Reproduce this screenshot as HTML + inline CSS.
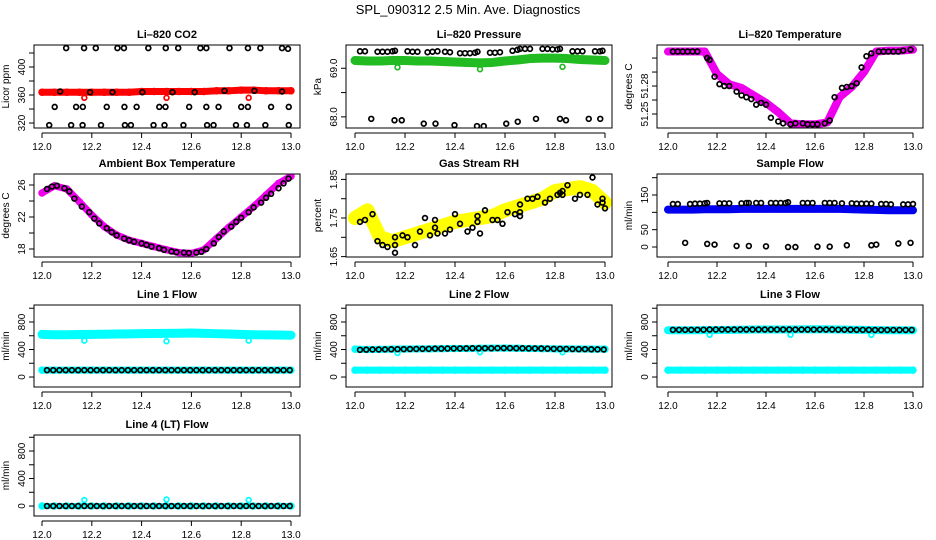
<!DOCTYPE html>
<html><head><meta charset="utf-8">
<style>
html,body{margin:0;padding:0;background:#fff;}
svg{display:block;font-family:"Liberation Sans",sans-serif;}
</style></head>
<body>
<svg id="chart" width="936" height="540" viewBox="0 0 936 540" xmlns="http://www.w3.org/2000/svg">
<rect x="0" y="0" width="936" height="540" fill="#fff"/>
<text x="468" y="14" text-anchor="middle" font-size="13">SPL_090312  2.5 Min. Ave. Diagnostics</text>
</svg>
<script>
// ---------- data ----------
const xTicks = [12.0, 12.2, 12.4, 12.6, 12.8, 13.0];
const xTickLabels = ["12.0", "12.2", "12.4", "12.6", "12.8", "13.0"];
const bandT = [12.0, 12.05, 12.1, 12.15, 12.2, 12.25, 12.3, 12.35, 12.4, 12.45, 12.5, 12.55, 12.6, 12.65, 12.7, 12.75, 12.8, 12.85, 12.9, 12.95, 13.0];

// CO2
const co2Band = [364, 364, 364, 364, 364, 364, 364, 364, 365, 365, 365, 365, 365, 365, 366, 366, 367, 367, 366, 366, 366];
const co2OutT = [12.17, 12.5, 12.83];
const co2OutV = [356, 356, 356];
const co2BlackT = [12.097, 12.169, 12.216, 12.303, 12.329, 12.427, 12.497, 12.547, 12.636, 12.66, 12.753, 12.827, 12.877, 12.964, 12.988,
  12.051, 12.137, 12.164, 12.26, 12.331, 12.38, 12.471, 12.496, 12.591, 12.66, 12.709, 12.8, 12.827, 12.92, 12.991,
  12.029, 12.117, 12.163, 12.237, 12.333, 12.357, 12.448, 12.492, 12.568, 12.663, 12.689, 12.779, 12.823, 12.897, 12.991,
  12.073, 12.193, 12.283, 12.403, 12.524, 12.613, 12.733, 12.853, 12.964];
const co2BlackV = [427, 427, 427, 427, 427, 427, 427, 427, 427, 427, 427, 427, 427, 427, 426,
  343, 343, 343, 343, 343, 343, 343, 343, 343, 343, 343, 343, 343, 343, 343,
  317, 317, 317, 317, 317, 317, 317, 317, 317, 317, 317, 317, 317, 317, 317,
  365, 364, 364, 364, 364, 364, 366, 366, 365];

// Pressure
const presBand = [69.16, 69.15, 69.15, 69.16, 69.16, 69.15, 69.15, 69.14, 69.13, 69.12, 69.11, 69.12, 69.15, 69.17, 69.2, 69.21, 69.21, 69.2, 69.18, 69.17, 69.16];
const presOutT = [12.17, 12.5, 12.83];
const presOutV = [69.02, 68.98, 69.03];
const presBlackT = [12.02, 12.04, 12.09, 12.11, 12.13, 12.15, 12.16, 12.21, 12.23, 12.25, 12.29, 12.31, 12.33, 12.36, 12.38, 12.42, 12.44, 12.46, 12.48, 12.49, 12.54, 12.56, 12.58, 12.63, 12.65, 12.66, 12.68, 12.7, 12.75, 12.77, 12.79, 12.81, 12.82, 12.87, 12.89, 12.91, 12.96, 12.98, 12.99,
  12.065, 12.158, 12.187, 12.275, 12.322, 12.398, 12.488, 12.515, 12.605, 12.651, 12.724, 12.82, 12.844, 12.935, 12.981];
const presBlackV = [69.35, 69.35, 69.34, 69.34, 69.34, 69.35, 69.36, 69.35, 69.34, 69.34, 69.33, 69.34, 69.35, 69.34, 69.33, 69.31, 69.31, 69.31, 69.32, 69.34, 69.32, 69.32, 69.33, 69.36, 69.38, 69.4, 69.4, 69.4, 69.4, 69.4, 69.39, 69.39, 69.4, 69.35, 69.35, 69.35, 69.35, 69.35, 69.36,
  67.96, 67.93, 67.93, 67.86, 67.86, 67.83, 67.81, 67.81, 67.86, 67.9, 67.96, 67.96, 67.93, 67.96, 67.96];

// Li-820 temperature
const tempBand = [51.317, 51.317, 51.317, 51.317, 51.293, 51.282, 51.278, 51.27, 51.262, 51.252, 51.24, 51.239, 51.239, 51.241, 51.268, 51.279, 51.295, 51.317, 51.318, 51.318, 51.319];
const tempBlackT = [12.02, 12.04, 12.06, 12.08, 12.1, 12.12, 12.16, 12.17, 12.19, 12.21, 12.23, 12.25, 12.28, 12.3, 12.32, 12.34, 12.36, 12.38, 12.4, 12.42, 12.45, 12.47, 12.5, 12.52, 12.55, 12.57, 12.59, 12.61, 12.64, 12.66, 12.68, 12.71, 12.73, 12.75, 12.77, 12.79, 12.81, 12.83, 12.86, 12.88, 12.9, 12.92, 12.94, 12.96, 12.99];
const tempBlackV = [51.317, 51.317, 51.317, 51.317, 51.317, 51.317, 51.31, 51.308, 51.29, 51.282, 51.28, 51.28, 51.274, 51.27, 51.268, 51.266, 51.26, 51.262, 51.26, 51.246, 51.242, 51.24, 51.239, 51.24, 51.24, 51.239, 51.239, 51.239, 51.24, 51.243, 51.268, 51.278, 51.279, 51.28, 51.283, 51.3, 51.312, 51.315, 51.317, 51.317, 51.317, 51.317, 51.317, 51.318, 51.319];

// Ambient temperature
const ambBand = [25.0, 25.9, 25.5, 23.9, 22.25, 20.8, 19.75, 19.1, 18.7, 18.3, 17.9, 17.55, 17.45, 17.9, 19.3, 20.7, 22.0, 23.3, 24.75, 26.2, 27.1];
const ambBlackT = [12.02, 12.04, 12.06, 12.09, 12.11, 12.13, 12.16, 12.19, 12.21, 12.23, 12.26, 12.28, 12.3, 12.33, 12.35, 12.37, 12.4, 12.42, 12.44, 12.47, 12.49, 12.52, 12.54, 12.57, 12.59, 12.62, 12.64, 12.66, 12.69, 12.71, 12.73, 12.76, 12.78, 12.8, 12.83, 12.85, 12.88, 12.9, 12.92, 12.95, 12.97, 12.99];
const ambBlackV = [25.5, 25.8, 25.9, 25.6, 25.2, 24.3, 23.3, 22.6, 21.8, 21.2, 20.6, 20.1, 19.7, 19.3, 19.1, 18.9, 18.7, 18.5, 18.3, 18.1, 17.9, 17.7, 17.6, 17.55, 17.5, 17.55, 17.65, 18.0, 18.7, 19.5, 20.2, 20.8, 21.4, 21.9, 22.6, 23.2, 23.8, 24.4, 24.9, 25.6, 26.2, 26.8];

// Gas stream RH
const rhBand = [1.75, 1.77, 1.7, 1.69, 1.7, 1.71, 1.72, 1.73, 1.74, 1.745, 1.75, 1.755, 1.77, 1.78, 1.79, 1.8, 1.82, 1.825, 1.83, 1.82, 1.79];
const rhBlackT = [12.02, 12.04, 12.07, 12.09, 12.11, 12.13, 12.16, 12.16, 12.16, 12.19, 12.21, 12.24, 12.26, 12.28, 12.3, 12.32, 12.32, 12.33, 12.36, 12.38, 12.4, 12.42, 12.45, 12.47, 12.49, 12.49, 12.5, 12.52, 12.55, 12.57, 12.59, 12.61, 12.64, 12.66, 12.66, 12.66, 12.69, 12.71, 12.73, 12.76, 12.78, 12.81, 12.82, 12.83, 12.83, 12.85, 12.88, 12.9, 12.93, 12.95, 12.97, 12.99, 12.99, 13.0];
const rhBlackV = [1.74, 1.745, 1.76, 1.69, 1.68, 1.675, 1.68, 1.66, 1.7, 1.705, 1.7, 1.68, 1.715, 1.75, 1.705, 1.725, 1.745, 1.71, 1.71, 1.72, 1.76, 1.735, 1.715, 1.725, 1.74, 1.755, 1.71, 1.77, 1.745, 1.745, 1.735, 1.765, 1.76, 1.755, 1.765, 1.785, 1.8, 1.8, 1.805, 1.79, 1.8, 1.81, 1.815, 1.81, 1.82, 1.835, 1.8, 1.81, 1.81, 1.855, 1.785, 1.79, 1.8, 1.775];

// Sample flow
const sfBand = [108, 108, 108, 109, 109, 109, 110, 110, 110, 110, 110, 110, 110, 110, 110, 109, 108, 107, 106, 106, 106];
const sfBlackT = [12.02, 12.04, 12.09, 12.11, 12.13, 12.15, 12.16, 12.21, 12.23, 12.25, 12.3, 12.32, 12.33, 12.36, 12.38, 12.42, 12.44, 12.46, 12.48, 12.49, 12.55, 12.57, 12.59, 12.64, 12.66, 12.68, 12.71, 12.75, 12.77, 12.79, 12.81, 12.83, 12.87, 12.89, 12.91, 12.96, 12.98, 13.0,
  12.07, 12.16, 12.19, 12.28, 12.33, 12.4, 12.49, 12.52, 12.61, 12.66, 12.73, 12.83, 12.85, 12.94, 12.99];
const sfBlackV = [124, 124, 124, 125, 125, 126, 127, 126, 126, 126, 126, 127, 127, 127, 127, 127, 127, 127, 127, 129, 127, 127, 127, 127, 127, 127, 126, 126, 125, 125, 125, 125, 124, 124, 123, 123, 123, 124,
  12, 9, 7, 3, 3, 2, 0, 0, 1, 1, 5, 5, 7, 10, 12];

// Line flows
const lineBlackT = [12.02, 12.045, 12.07, 12.095, 12.12, 12.145, 12.17, 12.195, 12.22, 12.245, 12.27, 12.295, 12.32, 12.345, 12.37, 12.395, 12.42, 12.445, 12.47, 12.495, 12.52, 12.545, 12.57, 12.595, 12.62, 12.645, 12.67, 12.695, 12.72, 12.745, 12.77, 12.795, 12.82, 12.845, 12.87, 12.895, 12.92, 12.945, 12.97, 12.995];
const outT = [12.17, 12.5, 12.83];
const l1High = [620, 615, 615, 618, 620, 622, 625, 628, 630, 632, 635, 637, 640, 635, 630, 625, 620, 615, 612, 610, 608];
const l1Low = [100, 100, 100, 100, 100, 100, 100, 100, 100, 100, 100, 100, 100, 100, 100, 100, 100, 100, 100, 100, 100];
const l1Out = [530, 520, 530];
const l1Black = [100, 100, 100, 100, 100, 100, 100, 100, 100, 100, 100, 100, 100, 100, 100, 100, 100, 100, 100, 100, 100, 100, 100, 100, 100, 100, 100, 100, 100, 100, 100, 100, 100, 100, 100, 100, 100, 100, 100, 100];
const l2High = [405, 400, 402, 405, 408, 410, 410, 412, 415, 415, 418, 420, 420, 418, 415, 412, 410, 410, 408, 405, 405];
const l2Low = [100, 100, 100, 100, 100, 100, 100, 100, 100, 100, 100, 100, 100, 100, 100, 100, 100, 100, 100, 100, 100];
const l2Out = [350, 360, 360];
const l2Black = [395, 398, 400, 400, 402, 403, 405, 405, 407, 408, 410, 410, 412, 412, 414, 415, 415, 416, 418, 418, 418, 418, 420, 420, 420, 418, 418, 416, 415, 414, 412, 410, 410, 408, 407, 405, 405, 403, 402, 400];
const l3High = [680, 680, 680, 682, 684, 686, 688, 690, 690, 690, 690, 692, 694, 692, 690, 688, 685, 682, 680, 680, 680];
const l3Low = [100, 100, 100, 100, 100, 100, 100, 100, 100, 100, 100, 100, 100, 100, 100, 100, 100, 100, 100, 100, 100];
const l3Out = [614, 614, 614];
const l3Black = [686, 686, 686, 686, 686, 688, 690, 690, 690, 690, 690, 690, 690, 690, 690, 690, 690, 690, 690, 690, 690, 690, 690, 690, 690, 690, 690, 688, 688, 688, 686, 686, 686, 684, 684, 684, 684, 684, 684, 684];
const l4Low = [0, 0, 0, 0, 0, 0, 0, 0, 0, 0, 0, 0, 0, 0, 0, 0, 0, 0, 0, 0, 0];
const l4Out = [87, 95, 87];
const l4Black = [0, 0, 0, 0, 0, 0, 0, 0, 0, 0, 0, 0, 0, 0, 0, 0, 0, 0, 0, 0, 0, 0, 0, 0, 0, 0, 0, 0, 0, 0, 0, 0, 0, 0, 0, 0, 0, 0, 0, 0];

// ---------- drawing ----------
const NS = "http://www.w3.org/2000/svg";
const svg = document.getElementById("chart");
const COLS = [[34, 300, 42, 291], [346, 612, 355, 605], [657, 923, 668, 913]];
const ROWS = [[45, 128], [174, 257], [305, 387], [435, 516]];

function mk(tag, attrs, parent) {
  const e = document.createElementNS(NS, tag);
  for (const k in attrs) e.setAttribute(k, attrs[k]);
  (parent || svg).appendChild(e);
  return e;
}

function panel(p) {
  const [bl, br, x0, x1] = COLS[p.col];
  const [bt, bb] = ROWS[p.row];
  const g = mk("g", {});
  
  
  const X = t => x0 + (t - 12) * (x1 - x0);
  const Y = v => bb - (v - p.ymin) / (p.ymax - p.ymin) * (bb - bt);
  const tt = mk("text", {x: (bl + br) / 2, y: bt - 7, "text-anchor": "middle", "font-size": 11, "font-weight": "bold"}, g);
  tt.textContent = p.title;
  
  
  const yl = mk("text", {transform: `translate(${bl - 25},${(bt + bb) / 2}) rotate(-90)`, "text-anchor": "middle", "font-size": 10}, g);
  yl.textContent = p.ylab;
  
  
  const xa = mk("g", {}, g);
  
  
  mk("line", {x1: X(12), x2: X(13), y1: bb + 5, y2: bb + 5, stroke: "#000", "stroke-width": 1}, xa);
  xTicks.forEach((t, i) => {
    mk("line", {x1: X(t), x2: X(t), y1: bb + 5, y2: bb + 10, stroke: "#000", "stroke-width": 1}, xa);
    const lt = mk("text", {x: X(t), y: bb + 22, "text-anchor": "middle", "font-size": 10}, xa);
    lt.textContent = xTickLabels[i];
    
    
  });
  const ya = mk("g", {}, g);
  
  
  mk("line", {x1: bl, x2: bl, y1: Y(p.ticks[0]), y2: Y(p.ticks[p.ticks.length - 1]), stroke: "#000"}, ya);
  p.ticks.forEach((v, i) => {
    mk("line", {x1: bl - 5, x2: bl, y1: Y(v), y2: Y(v), stroke: "#000"}, ya);
    if (p.labels[i]) {
      const lt = mk("text", {transform: `translate(${bl - 9},${Y(v)}) rotate(-90)`, "text-anchor": "middle", "font-size": 10}, ya);
      lt.textContent = p.labels[i];
      
      
    }
  });
  const cid = "c" + p.name;
  const cp = mk("clipPath", {id: cid}, g);
  mk("rect", {x: bl, y: bt, width: br - bl, height: bb - bt}, cp);
  const plot = mk("g", {"clip-path": `url(#${cid})`}, g);
  (p.bands || []).forEach(b => {
    const pl = mk("polyline", {points: bandT.map((t, i) => X(t) + "," + Y(b.v[i])).join(" "), fill: "none", stroke: b.color, "stroke-width": b.w || 8, "stroke-linejoin": "round", "stroke-linecap": "round"}, plot);
    
    
    bandT.forEach((t, i) => {
      const c = mk("circle", {cx: X(t), cy: Y(b.v[i]), r: 3, fill: "none", stroke: b.color, "stroke-width": 1.5}, plot);
      
      
    });
  });
  (p.pts || []).forEach(s => {
    s.t.forEach((t, i) => {
      const c = mk("circle", {cx: X(t), cy: Y(s.v[i]), r: 2.4, fill: "none", stroke: s.color, "stroke-width": 1.7}, plot);
      
      
    });
  });
  mk("rect", {x: bl, y: bt, width: br - bl, height: bb - bt, fill: "none", stroke: "#000", "stroke-width": 1}, g);
}

const lineTicks = [0, 200, 400, 600, 800, 1000];
const lineLabels = ["0", "", "400", "", "800", ""];

panel({name: "co2-panel", title: "Li\u2013820 CO2", ylab: "Licor ppm", col: 0, row: 0, ymin: 312.9, ymax: 431.4,
  ticks: [320, 340, 360, 380, 400, 420], labels: ["320", "", "360", "", "400", ""],
  bands: [{v: co2Band, color: "#ff0000", w: 7}],
  pts: [{t: co2OutT, v: co2OutV, color: "#ff0000"}, {t: co2BlackT, v: co2BlackV, color: "#000"}]});
panel({name: "pressure-panel", title: "Li\u2013820 Pressure", ylab: "kPa", col: 1, row: 0, ymin: 67.771, ymax: 69.479,
  ticks: [68.0, 68.5, 69.0], labels: ["68.0", "", "69.0"],
  bands: [{v: presBand, color: "#22bb22", w: 9}],
  pts: [{t: presOutT, v: presOutV, color: "#22bb22"}, {t: presBlackT, v: presBlackV, color: "#000"}]});
panel({name: "li820-temperature-panel", title: "Li\u2013820 Temperature", ylab: "degrees C", col: 2, row: 0, ymin: 51.235, ymax: 51.324,
  ticks: [51.25, 51.265, 51.28, 51.295, 51.31], labels: ["51.25", "", "51.28", "", ""],
  bands: [{v: tempBand, color: "#ee00ee", w: 8}],
  pts: [{t: tempBlackT, v: tempBlackV, color: "#000"}]});
panel({name: "ambient-temperature-panel", title: "Ambient Box Temperature", ylab: "degrees C", col: 0, row: 1, ymin: 17, ymax: 27.375,
  ticks: [18, 20, 22, 24, 26], labels: ["18", "", "22", "", "26"],
  bands: [{v: ambBand, color: "#ee00ee", w: 7}],
  pts: [{t: ambBlackT, v: ambBlackV, color: "#000"}]});
panel({name: "rh-panel", title: "Gas Stream RH", ylab: "percent", col: 1, row: 1, ymin: 1.649, ymax: 1.864,
  ticks: [1.65, 1.7, 1.75, 1.8, 1.85], labels: ["1.65", "", "1.75", "", "1.85"],
  bands: [{v: rhBand, color: "#ffff00", w: 14}],
  pts: [{t: rhBlackT, v: rhBlackV, color: "#000"}]});
panel({name: "sample-flow-panel", title: "Sample Flow", ylab: "ml/min", col: 2, row: 1, ymin: -28.8, ymax: 210.6,
  ticks: [0, 50, 100, 150, 200], labels: ["0", "50", "", "150", ""],
  bands: [{v: sfBand, color: "#0000ee", w: 8}],
  pts: [{t: sfBlackT, v: sfBlackV, color: "#000"}]});
panel({name: "line1-flow-panel", title: "Line 1 Flow", ylab: "ml/min", col: 0, row: 2, ymin: -145, ymax: 1047,
  ticks: lineTicks, labels: lineLabels,
  bands: [{v: l1High, color: "#00ffff", w: 9}, {v: l1Low, color: "#00ffff", w: 7}],
  pts: [{t: outT, v: l1Out, color: "#00ffff"}, {t: lineBlackT, v: l1Black, color: "#000"}]});
panel({name: "line2-flow-panel", title: "Line 2 Flow", ylab: "ml/min", col: 1, row: 2, ymin: -145, ymax: 1047,
  ticks: lineTicks, labels: lineLabels,
  bands: [{v: l2High, color: "#00ffff", w: 7}, {v: l2Low, color: "#00ffff", w: 7}],
  pts: [{t: outT, v: l2Out, color: "#00ffff"}, {t: lineBlackT, v: l2Black, color: "#000"}]});
panel({name: "line3-flow-panel", title: "Line 3 Flow", ylab: "ml/min", col: 2, row: 2, ymin: -145, ymax: 1047,
  ticks: lineTicks, labels: lineLabels,
  bands: [{v: l3High, color: "#00ffff", w: 8}, {v: l3Low, color: "#00ffff", w: 7}],
  pts: [{t: outT, v: l3Out, color: "#00ffff"}, {t: lineBlackT, v: l3Black, color: "#000"}]});
panel({name: "line4-flow-panel", title: "Line 4 (LT) Flow", ylab: "ml/min", col: 0, row: 3, ymin: -145, ymax: 1033,
  ticks: lineTicks, labels: lineLabels,
  bands: [{v: l4Low, color: "#00ffff", w: 6}],
  pts: [{t: outT, v: l4Out, color: "#00ffff"}, {t: lineBlackT, v: l4Black, color: "#000"}]});
</script>
</body></html>
